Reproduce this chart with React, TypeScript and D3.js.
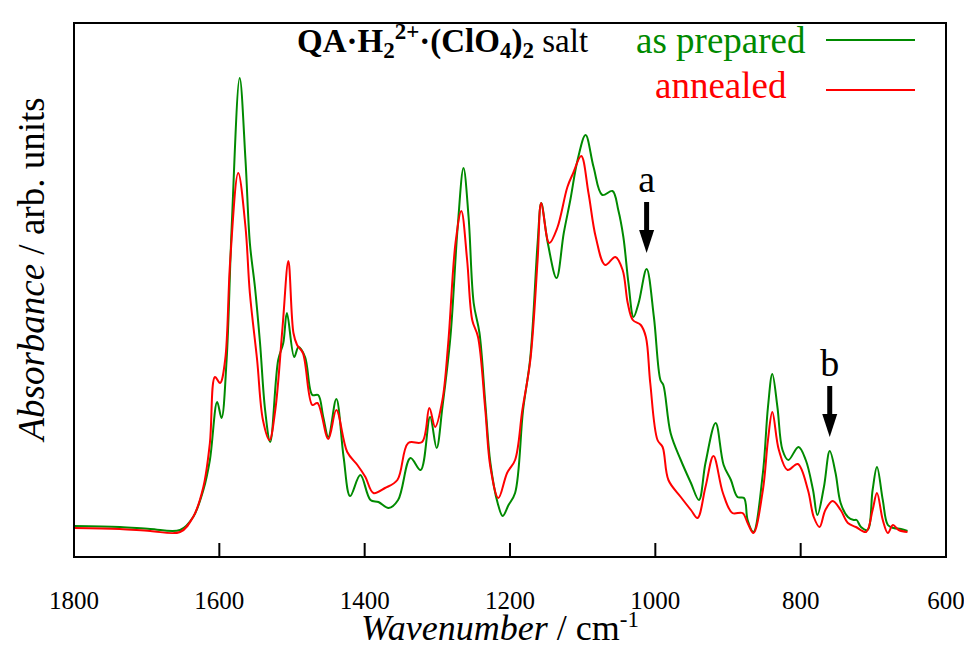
import React from "react";
import * as d3 from "d3";

// wavenumber (cm-1) and absorbance (arb. units)
const greenWn = [1800,1737,1695,1654,1636,1622,1613,1603,1597,1590,1583,1572,1564,1558,1551,1544,1537,1530,1519,1512,1507,1497,1491,1482,1472,1464,1457,1450,1439,1429,1420,1406,1392,1381,1367,1354,1337,1323,1310,1301,1293,1282,1272,1264,1257,1250,1242,1234,1227,1217,1210,1202,1193,1182,1172,1162,1157,1148,1136,1126,1117,1107,1096,1085,1073,1059,1051,1044,1037,1030,1023,1012,1002,993,989,979,965,951,940,931,917,906,896,887,878,873,865,852,845,839,832,825,817,803,793,783,777,768,760,752,745,735,727,723,717,708,701,695,687,680,672,662,653];
const greenAbs = [3.1,3.0,2.8,2.7,4.0,6.7,9.7,15.5,13.9,19.7,33.0,47.9,39.7,31.4,27.0,21.4,14.7,11.5,19.7,21.4,24.4,20.0,21.0,20.0,16.2,16.2,14.0,12.0,15.8,10.0,6.1,8.2,5.7,5.5,4.9,5.7,9.9,8.7,14.0,10.9,15.0,22.0,33.0,38.9,34.0,25.4,22.4,15.4,9.4,5.4,4.1,5.2,6.4,14.7,20.0,31.4,35.4,31.4,27.9,32.4,35.7,39.7,42.2,39.0,36.2,36.6,34.7,32.0,27.4,24.0,25.4,28.8,24.0,17.7,17.2,12.4,9.7,7.4,5.7,9.4,13.4,9.2,7.7,6.0,5.9,3.7,2.5,8.4,15.0,18.3,15.0,10.7,9.7,11.0,9.7,6.7,4.2,7.0,10.6,8.4,5.4,4.0,3.7,3.7,3.0,2.7,6.7,9.0,5.7,3.2,2.9,2.8,2.6];

const redWn = [1800,1737,1695,1654,1636,1622,1613,1606,1599,1592,1585,1574,1564,1558,1548,1540,1531,1523,1513,1505,1498,1493,1485,1472,1465,1450,1439,1424,1410,1399,1388,1372,1355,1340,1321,1311,1303,1293,1285,1275,1267,1259,1252,1244,1234,1227,1216,1204,1193,1183,1172,1162,1157,1146,1135,1121,1113,1102,1092,1082,1069,1055,1045,1038,1031,1020,1013,1007,997,990,982,965,951,942,931,920,907,894,880,873,865,852,845,839,830,818,804,790,782,774,766,756,745,735,724,710,701,695,687,680,673,665,653];
const redAbs = [2.9,2.8,2.6,2.5,4.0,7.0,11.4,18.0,17.4,19.7,29.7,38.4,33.0,26.4,19.7,13.7,11.7,14.7,23.0,29.6,22.4,21.2,20.4,15.2,15.4,11.8,14.7,10.5,9.2,8.0,6.4,6.9,7.7,11.4,11.5,14.9,13.0,15.7,21.4,31.4,34.6,29.7,23.7,22.0,14.7,9.0,5.9,8.4,9.7,14.7,19.7,29.7,35.4,31.4,32.9,37.0,38.4,40.1,36.4,32.0,29.2,30.0,28.7,25.4,23.7,23.2,22.0,17.4,11.7,11.0,7.7,6.0,4.7,3.9,7.0,10.1,6.4,4.4,4.4,3.4,2.4,6.7,11.7,14.5,10.7,8.7,9.3,6.7,4.0,3.0,4.7,5.6,4.7,3.4,3.0,2.5,4.7,6.4,3.7,2.4,3.2,2.7,2.5];

const xTicks = [1800, 1600, 1400, 1200, 1000, 800, 600];
const seriesNames = ["as prepared", "annealed"];
const seriesColors = ["#008a00", "#ff0000"];
const arrowMarks = [
  { label: "a", wn: 1012, top: 35.5, tip: 30.4 },
  { label: "b", wn: 760, top: 17.1, tip: 12.0 },
];

const W = 964, H = 647;
const L = 74, R = 946, T = 23, B = 557;
const FONT = "Liberation Serif";

export default function App() {
  const x = d3.scaleLinear().domain([1800, 600]).range([L, R]);
  const y = d3.scaleLinear().domain([0, 53.4]).range([B, T]);
  const line = d3
    .line<[number, number]>()
    .x((d) => x(d[0]))
    .y((d) => y(d[1]))
    .curve(d3.curveCatmullRom.alpha(0.5));
  const g = greenWn.map((w, i) => [w, greenAbs[i]] as [number, number]);
  const r = redWn.map((w, i) => [w, redAbs[i]] as [number, number]);
  const ts = { fontFamily: FONT };

  return (
    <svg width={W} height={H} style={{ position: "absolute", left: 0, top: 0, fontFamily: FONT }}>
      <rect x={0} y={0} width={W} height={H} fill="#fff" />
      <path d={line(g) || ""} fill="none" stroke={seriesColors[0]} strokeWidth={2} />
      <path d={line(r) || ""} fill="none" stroke={seriesColors[1]} strokeWidth={2} />
      <rect x={L} y={T} width={R - L} height={B - T} fill="none" stroke="#000" strokeWidth={2} />
      {xTicks.map((t) => (
        <g key={t}>
          {t !== 1800 && t !== 600 && (
            <line x1={x(t)} x2={x(t)} y1={B} y2={B - 14} stroke="#000" strokeWidth={2} />
          )}
          <text x={x(t)} y={609} fontSize={25} textAnchor="middle" style={ts}>{t}</text>
        </g>
      ))}
      <text x={500} y={640} fontSize={36} textAnchor="middle" style={ts}>
        <tspan fontStyle="italic">Wavenumber</tspan>
        <tspan> / cm</tspan>
        <tspan fontSize={23} dy={-13}>-1</tspan>
      </text>
      <text transform="translate(44,269) rotate(-90)" fontSize={37} textAnchor="middle" style={ts}>
        <tspan fontStyle="italic">Absorbance</tspan>
        <tspan> / arb. units</tspan>
      </text>
      <text x={297} y={52} fontSize={33} style={ts}>
        <tspan fontWeight="bold">QA·H</tspan>
        <tspan fontWeight="bold" fontSize={23} dy={6}>2</tspan>
        <tspan fontWeight="bold" fontSize={23} dy={-19}>2+</tspan>
        <tspan fontWeight="bold" dy={13}>·(ClO</tspan>
        <tspan fontWeight="bold" fontSize={23} dy={6}>4</tspan>
        <tspan fontWeight="bold" dy={-6}>)</tspan>
        <tspan fontWeight="bold" fontSize={23} dy={6}>2</tspan>
        <tspan dy={-6}> salt</tspan>
      </text>
      <text x={636} y={53} fontSize={37} fill={seriesColors[0]} style={ts}>{seriesNames[0]}</text>
      <line x1={826} x2={915} y1={40} y2={40} stroke={seriesColors[0]} strokeWidth={2} />
      <text x={655} y={98} fontSize={37} fill={seriesColors[1]} style={ts}>{seriesNames[1]}</text>
      <line x1={826} x2={915} y1={90} y2={90} stroke={seriesColors[1]} strokeWidth={2} />
      {arrowMarks.map((a) => {
        const cx = x(a.wn);
        const y0 = y(a.top);
        const yTip = y(a.tip);
        return (
          <g key={a.label}>
            <text x={cx} y={y0 - 10} fontSize={38} textAnchor="middle" style={ts}>{a.label}</text>
            <line x1={cx} x2={cx} y1={y0} y2={yTip - 20} stroke="#000" strokeWidth={5} />
            <path d={`M${cx - 7.5},${yTip - 23} L${cx + 7.5},${yTip - 23} L${cx},${yTip} Z`} fill="#000" />
          </g>
        );
      })}
    </svg>
  );
}
